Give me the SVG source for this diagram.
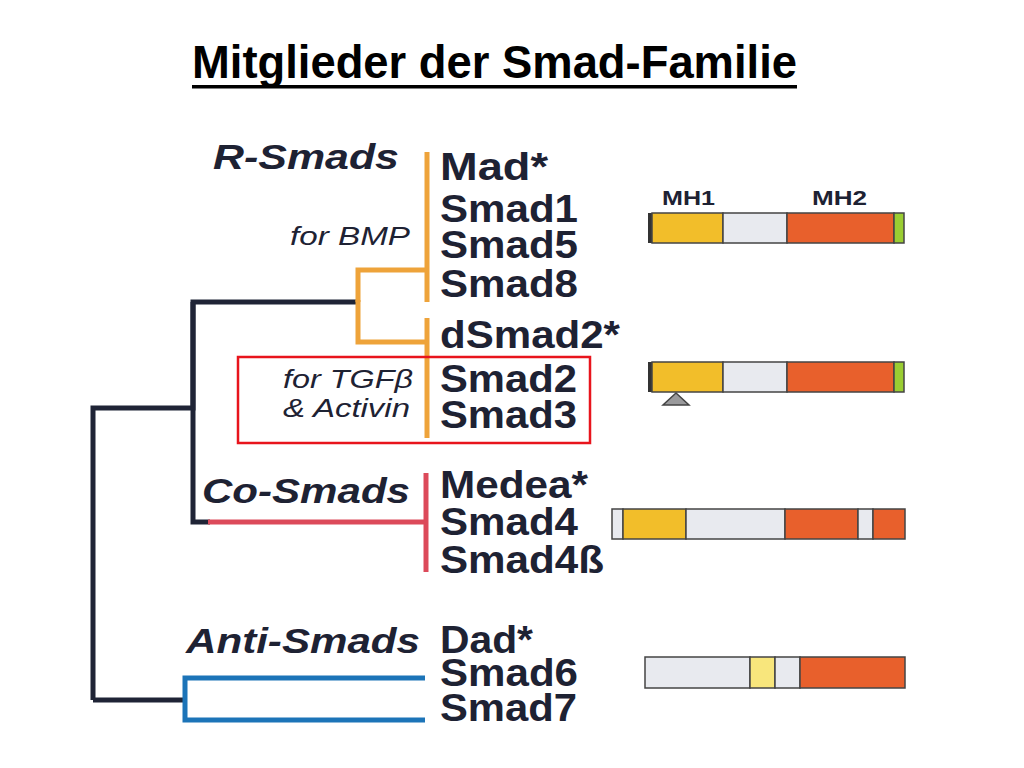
<svg xmlns="http://www.w3.org/2000/svg" width="1024" height="768" viewBox="0 0 1024 768">
<style>
.title{font-family:"Liberation Sans",Arial,sans-serif;font-weight:bold;font-size:45.5px;fill:#000}
.gene{font-family:"Liberation Sans",Arial,sans-serif;font-weight:bold;font-size:38px;fill:#1e2233}
.grp{font-family:"Liberation Sans",Arial,sans-serif;font-weight:bold;font-style:italic;font-size:35px;fill:#1e2233}
.note{font-family:"Liberation Sans",Arial,sans-serif;font-style:italic;font-size:26px;fill:#1e2233}
.mh{font-family:"Liberation Sans",Arial,sans-serif;font-weight:bold;font-size:20px;fill:#1e2233}
.dark{stroke:#1f2436;stroke-width:5;fill:none}
.org{stroke:#eea33a;stroke-width:5;fill:none}
.red{stroke:#dc4a5a;stroke-width:5;fill:none}
.blue{stroke:#1c74b8;stroke-width:5;fill:none}
.seg{stroke:#444;stroke-width:1.5}
.yel{fill:#f2be2a}.gry{fill:#e8eaef}.ora{fill:#e8602c}.grn{fill:#9acd32}.pyl{fill:#f8e67c}
</style>
<rect width="1024" height="768" fill="#fff"/>
<g id="title">
<text class="title" x="192" y="78" textLength="605" lengthAdjust="spacingAndGlyphs">Mitglieder der Smad-Familie</text>
<rect x="192" y="85" width="605" height="3.5" fill="#000"/>
</g>
<g id="connectors">
<path class="dark" d="M93,700 V408 H193 V302 H358"/>
<path class="dark" d="M193,302 V522 H210"/>
<path class="dark" d="M93,700 H185"/>
<path class="org" d="M427,152 V302"/>
<path class="org" d="M358,302 V270 H427"/>
<path class="org" d="M358,300 V342 H427"/>
<path class="org" d="M427,318 V438"/>
<path class="red" d="M208,522 H426"/>
<path class="red" d="M426,473 V572"/>
<path class="blue" d="M425,678 H185 V720 H425"/>
</g>
<g id="r-smads">
<text class="grp" x="213" y="169" textLength="186" lengthAdjust="spacingAndGlyphs">R-Smads</text>
<text class="note" x="290" y="245" textLength="120" lengthAdjust="spacingAndGlyphs">for BMP</text>
<text class="gene" x="440" y="180" textLength="108" lengthAdjust="spacingAndGlyphs">Mad*</text>
<text class="gene" x="440" y="222" textLength="138" lengthAdjust="spacingAndGlyphs">Smad1</text>
<text class="gene" x="440" y="258" textLength="138" lengthAdjust="spacingAndGlyphs">Smad5</text>
<text class="gene" x="440" y="297" textLength="138" lengthAdjust="spacingAndGlyphs">Smad8</text>
<text class="gene" x="440" y="348" textLength="180" lengthAdjust="spacingAndGlyphs">dSmad2*</text>
</g>
<g id="tgf-box">
<rect x="238" y="357" width="352" height="86" fill="none" stroke="#e8141c" stroke-width="2.5"/>
<text class="note" x="283" y="388" textLength="130" lengthAdjust="spacingAndGlyphs">for TGFβ</text>
<text class="note" x="283" y="417" textLength="127" lengthAdjust="spacingAndGlyphs">&amp; Activin</text>
<text class="gene" x="440" y="392" textLength="137" lengthAdjust="spacingAndGlyphs">Smad2</text>
<text class="gene" x="440" y="428" textLength="137" lengthAdjust="spacingAndGlyphs">Smad3</text>
</g>
<g id="co-smads">
<text class="grp" x="202" y="503" textLength="208" lengthAdjust="spacingAndGlyphs">Co-Smads</text>
<text class="gene" x="440" y="498" textLength="148" lengthAdjust="spacingAndGlyphs">Medea*</text>
<text class="gene" x="440" y="535" textLength="138" lengthAdjust="spacingAndGlyphs">Smad4</text>
<text class="gene" x="440" y="573" textLength="164" lengthAdjust="spacingAndGlyphs">Smad4ß</text>
</g>
<g id="anti-smads">
<text class="grp" x="186" y="653" textLength="234" lengthAdjust="spacingAndGlyphs">Anti-Smads</text>
<text class="gene" x="440" y="653" textLength="93" lengthAdjust="spacingAndGlyphs">Dad*</text>
<text class="gene" x="440" y="686" textLength="138" lengthAdjust="spacingAndGlyphs">Smad6</text>
<text class="gene" x="440" y="721" textLength="137" lengthAdjust="spacingAndGlyphs">Smad7</text>
</g>
<g id="bar-bmp">
<text class="mh" x="662" y="205" textLength="53" lengthAdjust="spacingAndGlyphs">MH1</text>
<text class="mh" x="812" y="205" textLength="55" lengthAdjust="spacingAndGlyphs">MH2</text>
<rect x="648" y="213" width="4" height="30" fill="#333"/>
<rect class="seg yel" x="652" y="213" width="71" height="30"/>
<rect class="seg gry" x="723" y="213" width="64" height="30"/>
<rect class="seg ora" x="787" y="213" width="107" height="30"/>
<rect class="seg grn" x="894" y="213" width="10" height="30"/>
</g>
<g id="bar-tgf">
<rect x="648" y="362" width="4" height="30" fill="#333"/>
<rect class="seg yel" x="652" y="362" width="71" height="30"/>
<rect class="seg gry" x="723" y="362" width="64" height="30"/>
<rect class="seg ora" x="787" y="362" width="107" height="30"/>
<rect class="seg grn" x="894" y="362" width="10" height="30"/>
<polygon points="676,393 663,405 689,405" fill="#9a9a9c" stroke="#444" stroke-width="1.5"/>
</g>
<g id="bar-co">
<rect class="seg gry" x="612" y="509" width="11" height="30"/>
<rect class="seg yel" x="623" y="509" width="63" height="30"/>
<rect class="seg gry" x="686" y="509" width="99" height="30"/>
<rect class="seg ora" x="785" y="509" width="73" height="30"/>
<rect class="seg gry" x="858" y="509" width="15" height="30"/>
<rect class="seg ora" x="873" y="509" width="32" height="30"/>
</g>
<g id="bar-anti">
<rect class="seg gry" x="645" y="657" width="105" height="31"/>
<rect class="seg pyl" x="750" y="657" width="25" height="31"/>
<rect class="seg gry" x="775" y="657" width="25" height="31"/>
<rect class="seg ora" x="800" y="657" width="105" height="31"/>
</g>
</svg>
